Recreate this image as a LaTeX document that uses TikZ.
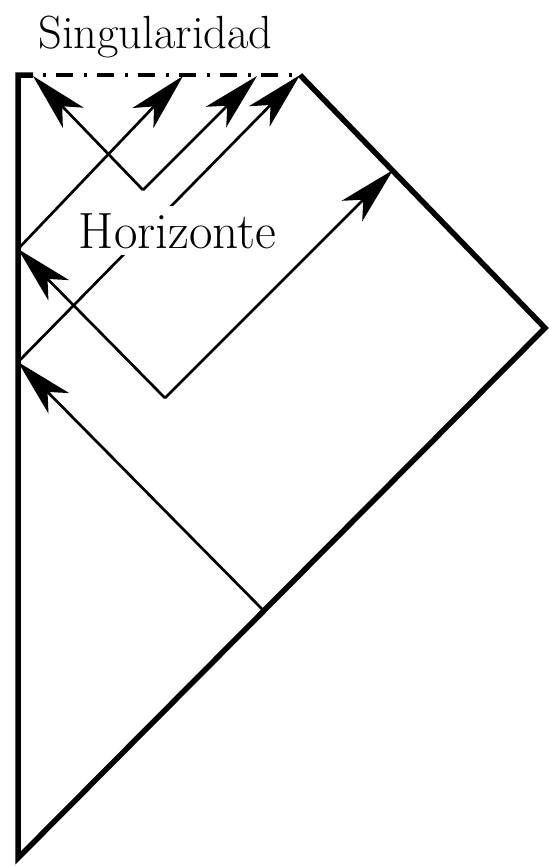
\documentclass[tikz,border=0pt]{standalone}
\usetikzlibrary{arrows.meta}
\begin{document}
\begin{tikzpicture}[x=1bp,y=-1bp,
  frame/.style={line width=5.5bp,line join=miter,line cap=butt},
  sing/.style={line width=4.5bp,line cap=butt,dash pattern=on 3bp off 10bp on 17bp off 11bp},
  ray/.style={line width=2.7bp,line cap=butt},
  arr/.style={ray,-{Stealth[length=58bp,width=29bp,inset=16bp]}},
  lbl/.style={anchor=base,inner xsep=2bp,inner ysep=7bp}]
\useasboundingbox (0,0) rectangle (549,866);
% frame corners
\coordinate (TL) at (18,75);
\coordinate (TLs) at (33,75);
\coordinate (TLd) at (42.5,75);
\coordinate (TR) at (300,75);
\coordinate (R) at (545,328);
\coordinate (BL) at (18,858);
% ray points
\coordinate (A0) at (264,611);
\coordinate (P1) at (18,249);
\coordinate (P2) at (18,362);
\coordinate (V1) at (143,190);
\coordinate (V2) at (165,398);
\coordinate (E) at (393,170);
\coordinate (S0) at (33,76);
\coordinate (S1) at (183,76);
\coordinate (S2) at (257,76);
% frame
\draw[frame] (TLs) -- (TL) -- (BL) -- (R) -- (TR);
\draw[sing] (TLd) -- (TR);
% rays
\draw[arr] (A0) -- (P2);
\draw[arr] (P2) -- (TR);
\draw[arr] (V2) -- (P1);
\draw[arr] (V2) -- (E);
\draw[arr] (P1) -- (S1);
\draw[arr] (V1) -- (S0);
\draw[arr] (V1) -- (S2);
% labels
\node[lbl,font=\fontsize{46.5bp}{52bp}\selectfont] (singlabel) at (155.5,48) {Singularidad};
\node[lbl,fill=white,font=\fontsize{51bp}{56bp}\selectfont] (horlabel) at (177.5,248) {Horizonte};
\end{tikzpicture}
\end{document}
